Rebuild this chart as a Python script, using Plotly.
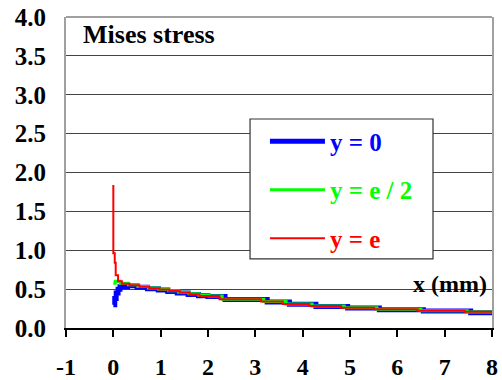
import plotly.graph_objects as go

# Mises stress along x for three depths (step-wise FE output)
x_y0 = [0, 0.03, 0.06, 0.10, 0.14, 0.30, 0.50, 0.72, 0.95, 1.15, 1.35, 1.58, 1.80,
        2.00, 2.36, 3.25, 3.72, 4.28, 4.95, 5.62, 6.55, 7.55, 8.0]
s_y0 = [0.30, 0.38, 0.45, 0.50, 0.53, 0.545, 0.525, 0.505, 0.49, 0.47, 0.45, 0.43, 0.415,
        0.405, 0.365, 0.335, 0.305, 0.278, 0.256, 0.235, 0.218, 0.195, 0.195]

x_half = [0, 0.04, 0.15, 0.32, 0.52, 0.74, 0.96, 1.17, 1.38, 1.60, 1.81, 2.02, 2.30,
          3.18, 3.65, 4.20, 4.88, 5.57, 6.50, 7.48, 8.0]
s_half = [0.575, 0.60, 0.575, 0.555, 0.535, 0.515, 0.498, 0.48, 0.46, 0.44, 0.42, 0.41, 0.37,
          0.34, 0.31, 0.283, 0.261, 0.24, 0.222, 0.205, 0.205]

x_e = [0, 0, 0.03, 0.05, 0.10, 0.18, 0.34, 0.55, 0.76, 0.97, 1.18, 1.40, 1.61, 1.82,
       2.24, 3.12, 3.58, 4.14, 4.81, 5.51, 6.43, 7.42, 8.0]
s_e = [1.84, 0.96, 0.84, 0.68, 0.60, 0.57, 0.55, 0.53, 0.51, 0.495, 0.476, 0.455, 0.433, 0.41,
       0.37, 0.34, 0.31, 0.283, 0.261, 0.24, 0.223, 0.21, 0.21]

x_ticks = [-1, 0, 1, 2, 3, 4, 5, 6, 7, 8]
y_ticks = [0.0, 0.5, 1.0, 1.5, 2.0, 2.5, 3.0, 3.5, 4.0]

FONT = "Liberation Serif"

series = [
    ("y = 0", x_y0, s_y0, "#0000FF", 5),
    ("y = e / 2", x_half, s_half, "#00FF00", 3),
    ("y = e", x_e, s_e, "#FF0000", 2),
]

fig = go.Figure()
for name, xs, ys, color, width in series:
    fig.add_trace(go.Scatter(
        x=xs, y=ys, mode="lines", line=dict(color=color, width=width, shape="hv"),
        name=f"<b><span style='color:{color}'>{name}</span></b>", legendgroup=name,
    ))

fig.update_layout(
    width=502, height=380,
    margin=dict(l=66, r=10, t=17, b=52),
    paper_bgcolor="white", plot_bgcolor="white",
    font=dict(family=FONT, size=24, color="black"),
    showlegend=True,
    legend=dict(
        x=0.467, y=0.674, xanchor="left", yanchor="top",
        bgcolor="rgba(0,0,0,0)", borderwidth=0,
        font=dict(family=FONT, size=25),
        itemwidth=55, traceorder="grouped", tracegroupgap=13,
    ),
    xaxis=dict(
        range=[-1, 8], tickvals=x_ticks, ticktext=[f"<b>{v}</b>" for v in x_ticks],
        tickfont=dict(family=FONT, size=24),
        showgrid=False, zeroline=False, automargin=False,
        showline=True, linecolor="black", linewidth=1.5,
        ticks="outside", ticklen=7, tickcolor="black", tickwidth=1.5,
        ticklabelstandoff=9,
    ),
    yaxis=dict(
        range=[0, 4], tickvals=y_ticks, ticktext=[f"<b>{v:.1f}</b>" for v in y_ticks],
        tickfont=dict(family=FONT, size=25),
        showgrid=True, gridcolor="#444444", gridwidth=1, zeroline=False, automargin=False,
        showline=True, linecolor="#a0a0a0", linewidth=2, mirror=True,
        ticks="", ticklabelstandoff=13,
    ),
    shapes=[
        dict(type="line", xref="paper", yref="paper", x0=0, x1=1, y0=1, y1=1,
             line=dict(color="#a0a0a0", width=2)),
        # legend frame
        dict(type="rect", xref="paper", yref="paper", x0=0.432, x1=0.8615, y0=0.222, y1=0.672,
             fillcolor="white", line=dict(color="#333333", width=1.2), layer="above"),
    ],
    annotations=[
        dict(text="<b>Mises stress</b>", xref="paper", yref="paper", x=0.036, y=0.945,
             xanchor="left", yanchor="middle", showarrow=False,
             font=dict(family=FONT, size=26)),
        dict(text="<b>x (mm)</b>", xref="paper", yref="paper", x=0.993, y=0.1415,
             xanchor="right", yanchor="middle", showarrow=False,
             font=dict(family=FONT, size=24)),
    ],
)

fig.write_html("out.html")
